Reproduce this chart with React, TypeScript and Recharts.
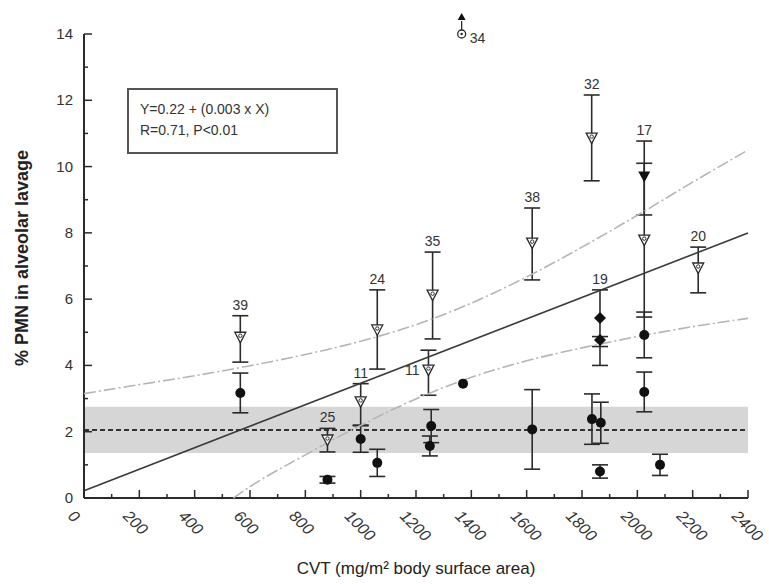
import { ScatterChart, Scatter, XAxis, YAxis, ErrorBar, ReferenceArea, ReferenceLine, Label } from 'recharts'

const FONT = '"Liberation Sans", Arial, sans-serif'
const INK = '#2b2b2b'

// open triangles: patient means with SD, tagged with patient number
const openCvt = [565, 880, 1000, 1060, 1245, 1260, 1620, 1835, 2025, 2220]
const openPmn = [4.85, 1.75, 2.9, 5.07, 3.86, 6.12, 7.69, 10.86, 7.78, 6.94]
const openLo = [0.75, 0.36, 0.7, 1.18, 0.76, 1.32, 1.11, 1.29, 2.32, 0.75]
const openHi = [0.65, 0.35, 0.55, 1.21, 0.6, 1.3, 1.06, 1.3, 2.32, 0.63]
const openIds = ['39', '25', '11', '24', '11', '35', '38', '32', '', '20']

// filled triangle (17) and filled diamonds (19)
const triCvt = [2025]
const triPmn = [9.7]
const triLo = [1.16]
const triHi = [1.07]
const triIds = ['17']

const diaCvt = [1865, 1865]
const diaPmn = [5.43, 4.77]
const diaLo = [0.86, 0.77]
const diaHi = [0.85, 0.1]
const diaIds = ['19', '']

// filled circles
const dotCvt = [565, 880, 1000, 1060, 1255, 1250, 1620, 1836, 1868, 1865, 2025, 2025, 2082]
const dotPmn = [3.17, 0.55, 1.78, 1.06, 2.17, 1.57, 2.07, 2.38, 2.27, 0.8, 4.92, 3.2, 1.0]
const dotErr = [0.6, 0.1, 0.4, 0.41, 0.5, 0.3, 1.2, 0.76, 0.62, 0.2, 0.69, 0.6, 0.32]

// single readings without SD
const loneCvt = [1370]
const lonePmn = [3.45]

// off-scale value for patient 34
const offCvt = [1365]
const offPmn = [14]
const offIds = ['34']

// regression fit and 95% confidence band
const fitIntercept = 0.22
const fitSlope = 0.00324
const upperCvt = [0, 200, 400, 600, 800, 1000, 1200, 1400, 1600, 1800, 2000, 2200, 2400]
const upperPmn = [3.15, 3.42, 3.69, 3.99, 4.33, 4.73, 5.23, 5.88, 6.67, 7.57, 8.53, 9.53, 10.5]
const lowerCvt = [540, 600, 800, 1000, 1200, 1400, 1600, 1800, 2000, 2200, 2400]
const lowerPmn = [0, 0.34, 1.3, 2.19, 2.99, 3.64, 4.14, 4.53, 4.87, 5.17, 5.42]

// normal range (mean and band)
const normalMean = 2.05
const normalLow = 1.36
const normalHigh = 2.75

const cvtTicks = [0, 100, 200, 300, 400, 500, 600, 700, 800, 900, 1000, 1100, 1200, 1300, 1400, 1500, 1600, 1700, 1800, 1900, 2000, 2100, 2200, 2300, 2400]
const pmnTicks = [0, 1, 2, 3, 4, 5, 6, 7, 8, 9, 10, 11, 12, 13, 14]

const withErr = (xs: number[], ys: number[], lo: number[], hi: number[], ids?: string[]) =>
  xs.map((x, i) => ({ x, y: ys[i], err: [lo[i], hi[i]], id: ids ? ids[i] : '' }))

const openData = withErr(openCvt, openPmn, openLo, openHi, openIds)
const triData = withErr(triCvt, triPmn, triLo, triHi, triIds)
const diaData = withErr(diaCvt, diaPmn, diaLo, diaHi, diaIds)
const dotData = withErr(dotCvt, dotPmn, dotErr, dotErr)
const loneData = loneCvt.map((x, i) => ({ x, y: lonePmn[i] }))
const offData = offCvt.map((x, i) => ({ x, y: offPmn[i], id: offIds[i] }))
const upperData = upperCvt.map((x, i) => ({ x, y: upperPmn[i] }))
const lowerData = lowerCvt.map((x, i) => ({ x, y: lowerPmn[i] }))
const fitData = [0, 2400].map((x) => ({ x, y: fitIntercept + fitSlope * x }))

// patient numbers sit above the top cap, except the second "11" (left) and 34 (right)
type Side = 'top' | 'left' | 'right'
const tagData: { x: number; y: number; id: string; side: Side }[] = [
  ...[...openData, ...triData, ...diaData]
    .filter((d) => d.id)
    .map((d, i) => {
      const side: Side = i === 4 ? 'left' : 'top'
      return { x: d.x, y: side === 'top' ? d.y + d.err[1] : d.y, id: d.id, side }
    }),
  ...offData.map((d) => ({ x: d.x, y: d.y, id: d.id, side: 'right' as Side })),
]

const nothing = () => <g />

const OpenTriangle = ({ cx, cy }: any) => (
  <g>
    <path d={`M${cx - 5.5},${cy - 5} L${cx + 5.5},${cy - 5} L${cx},${cy + 5.5} Z`} fill="#fff" stroke={INK} strokeWidth={1.3} />
    <circle cx={cx} cy={cy - 1.5} r={1.7} fill="none" stroke={INK} strokeWidth={1} />
  </g>
)

const FilledTriangle = ({ cx, cy }: any) => (
  <path d={`M${cx - 6},${cy - 5} L${cx + 6},${cy - 5} L${cx},${cy + 6} Z`} fill="#111" />
)

const FilledDiamond = ({ cx, cy }: any) => (
  <path d={`M${cx},${cy - 6} L${cx + 6},${cy} L${cx},${cy + 6} L${cx - 6},${cy} Z`} fill="#111" />
)

const Dot = ({ cx, cy }: any) => <circle cx={cx} cy={cy} r={5} fill="#111" />

const OffScale = ({ cx, cy }: any) => (
  <g>
    <line x1={cx} y1={cy - 4} x2={cx} y2={cy - 13} stroke={INK} strokeWidth={1.3} />
    <path d={`M${cx - 4},${cy - 14} L${cx + 4},${cy - 14} L${cx},${cy - 21} Z`} fill="#111" />
    <circle cx={cx} cy={cy} r={4} fill="#fff" stroke={INK} strokeWidth={1.3} />
    <circle cx={cx} cy={cy} r={1.2} fill={INK} />
  </g>
)

const Tag = ({ cx, cy, payload }: any) => {
  const common = { fill: '#333', fontSize: 14, fontFamily: FONT }
  if (payload.side === 'left')
    return <text x={cx - 9} y={cy + 5} textAnchor="end" {...common}>{payload.id}</text>
  if (payload.side === 'right')
    return <text x={cx + 8} y={cy + 9} textAnchor="start" {...common}>{payload.id}</text>
  return <text x={cx} y={cy - 6} textAnchor="middle" {...common}>{payload.id}</text>
}

const XTick = ({ x, y, payload }: any) => {
  const major = payload.value % 200 === 0
  return (
    <g>
      <line x1={x} y1={y} x2={x} y2={y - (major ? 8 : 4)} stroke={INK} strokeWidth={1.5} />
      {major && (
        <text
          x={x - 17}
          y={y + 19}
          transform={`rotate(45, ${x - 17}, ${y + 19})`}
          fontSize={16}
          fontStyle="italic"
          fontFamily={FONT}
          fill="#333"
        >
          {payload.value}
        </text>
      )}
    </g>
  )
}

const YTick = ({ x, y, payload }: any) => {
  const major = payload.value % 2 === 0
  return (
    <g>
      <line x1={x} y1={y} x2={x + (major ? 8 : 4)} y2={y} stroke={INK} strokeWidth={1.5} />
      {major && (
        <text x={x - 11} y={y + 5} textAnchor="end" fontSize={15} fontFamily={FONT} fill="#333">
          {payload.value}
        </text>
      )}
    </g>
  )
}

const XTitle = ({ viewBox }: any) => (
  <text
    x={viewBox.x + viewBox.width / 2}
    y={viewBox.y + viewBox.height - 10}
    textAnchor="middle"
    fontSize={17}
    fontFamily={FONT}
    fill="#222"
  >
    CVT (mg/m² body surface area)
  </text>
)

const YTitle = ({ viewBox }: any) => {
  const cx = viewBox.x + 28
  const cy = viewBox.y + viewBox.height / 2 - 8
  return (
    <text
      x={cx}
      y={cy}
      transform={`rotate(-90, ${cx}, ${cy})`}
      textAnchor="middle"
      fontSize={18}
      fontWeight="bold"
      fontFamily={FONT}
      fill="#222"
    >
      % PMN in alveolar lavage
    </text>
  )
}

const barProps = { dataKey: 'err', direction: 'y' as const, width: 8, stroke: INK, strokeWidth: 1.6 }

export default function App() {
  return (
    <div style={{ position: 'absolute', left: 0, top: 0, width: 769, height: 584, background: '#fff' }}>
      <ScatterChart width={769} height={584} margin={{ top: 34, right: 21, bottom: 0, left: 0 }}>
        <XAxis
          type="number"
          dataKey="x"
          domain={[0, 2400]}
          ticks={cvtTicks}
          interval={0}
          tickSize={0}
          tickMargin={0}
          tickLine={false}
          tick={XTick}
          height={86}
          axisLine={{ stroke: INK, strokeWidth: 2 }}
        >
          <Label content={XTitle} />
        </XAxis>
        <YAxis
          type="number"
          dataKey="y"
          domain={[0, 14]}
          ticks={pmnTicks}
          interval={0}
          tickSize={0}
          tickMargin={0}
          tickLine={false}
          tick={YTick}
          width={84}
          axisLine={{ stroke: INK, strokeWidth: 2 }}
        >
          <Label content={YTitle} />
        </YAxis>

        <ReferenceArea x1={0} x2={2400} y1={normalLow} y2={normalHigh} fill="#d6d6d6" fillOpacity={1} stroke="none" />
        <ReferenceLine y={normalMean} stroke="#333" strokeWidth={2} strokeDasharray="5 3" />

        <Scatter
          data={upperData}
          shape={nothing}
          line={{ stroke: '#b5b5b5', strokeWidth: 1.6, strokeDasharray: '12 3 2 3' }}
          lineJointType="monotoneX"
          isAnimationActive={false}
        />
        <Scatter
          data={lowerData}
          shape={nothing}
          line={{ stroke: '#b5b5b5', strokeWidth: 1.6, strokeDasharray: '12 3 2 3' }}
          lineJointType="monotoneX"
          isAnimationActive={false}
        />
        <Scatter data={fitData} shape={nothing} line={{ stroke: '#3a3a3a', strokeWidth: 1.6 }} isAnimationActive={false} />

        <Scatter data={dotData} shape={Dot} isAnimationActive={false}>
          <ErrorBar {...barProps} />
        </Scatter>
        <Scatter data={openData} shape={OpenTriangle} isAnimationActive={false}>
          <ErrorBar {...barProps} />
        </Scatter>
        <Scatter data={triData} shape={FilledTriangle} isAnimationActive={false}>
          <ErrorBar {...barProps} />
        </Scatter>
        <Scatter data={diaData} shape={FilledDiamond} isAnimationActive={false}>
          <ErrorBar {...barProps} />
        </Scatter>
        <Scatter data={loneData} shape={Dot} isAnimationActive={false} />
        <Scatter data={offData} shape={OffScale} isAnimationActive={false} />
        <Scatter data={tagData} shape={Tag} isAnimationActive={false} />
      </ScatterChart>

      <div
        style={{
          position: 'absolute',
          left: 127,
          top: 88,
          width: 211,
          height: 66,
          boxSizing: 'border-box',
          border: '2px solid #555',
          padding: '9px 0 0 11px',
          fontFamily: FONT,
          fontSize: 14,
          lineHeight: '21px',
          color: '#333',
        }}
      >
        <div>Y=0.22 + (0.003 x X)</div>
        <div>R=0.71, P&lt;0.01</div>
      </div>
    </div>
  )
}
